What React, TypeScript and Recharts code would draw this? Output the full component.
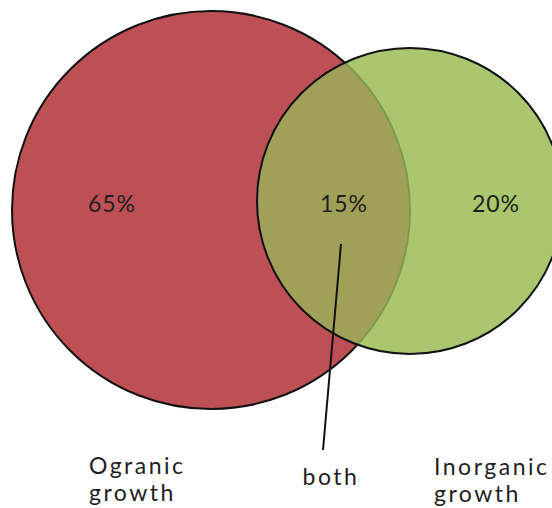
import React from "react";
import { ScatterChart, Scatter, XAxis, YAxis, ZAxis } from "recharts";

// circles: centre and radius in the chart's own units (1 unit = 1px)
const organic = [{ name: "Ogranic growth", x: 211, y: 210, r: 199 }];
const inorganic = [{ name: "Inorganic growth", x: 410, y: 201, r: 153 }];

const shares = [
  { label: "65%", x: 112, y: 204 },
  { label: "15%", x: 344, y: 204 },
  { label: "20%", x: 496, y: 204 },
];

const names = [
  { lines: ["Ogranic", "growth"], x: 89, y: 474, anchor: "start" },
  { lines: ["both"], x: 331, y: 485, anchor: "middle" },
  { lines: ["Inorganic", "growth"], x: 434, y: 475, anchor: "start" },
];

const pointer = [
  { x: 341, y: 244 },
  { x: 323, y: 450 },
];

const RED = "#bd5055";
const GREEN = "#aac66f";
const BOTH = "#a0a058";
const FONT = "Lato, 'Noto Sans', sans-serif";

const radius = (p: any) => p.size ?? p.width / 2;

function RedCircle(p: any) {
  return <circle cx={p.cx} cy={p.cy} r={radius(p)} fill={RED} stroke="#111" strokeWidth={2} />;
}

function GreenCircle(p: any) {
  const r = radius(p);
  return (
    <g>
      <defs>
        <clipPath id="green-clip">
          <circle cx={p.cx} cy={p.cy} r={r} />
        </clipPath>
      </defs>
      <circle cx={p.cx} cy={p.cy} r={r} fill={GREEN} stroke="none" />
    </g>
  );
}

// the red circle again, seen through the green one
function Overlap(p: any) {
  return (
    <circle
      cx={p.cx}
      cy={p.cy}
      r={radius(p)}
      fill={BOTH}
      stroke="#7d9a4c"
      strokeWidth={2}
      clipPath="url(#green-clip)"
    />
  );
}

function GreenOutline(p: any) {
  return <circle cx={p.cx} cy={p.cy} r={radius(p)} fill="none" stroke="#111" strokeWidth={2} />;
}

function ShareText(p: any) {
  return (
    <text x={p.cx} y={p.cy} dy="0.35em" textAnchor="middle" fontFamily={FONT} fontSize={23} letterSpacing={1} fill="#1e1e1e">
      {p.payload.label}
    </text>
  );
}

function NameText(p: any) {
  const d = p.payload;
  return (
    <text x={p.cx} y={p.cy} textAnchor={d.anchor} fontFamily={FONT} fontSize={23} letterSpacing={2.5} fill="#1e1e1e">
      {d.lines.map((l: string, i: number) => (
        <tspan key={i} x={p.cx} dy={i === 0 ? 0 : 27}>
          {l}
        </tspan>
      ))}
    </text>
  );
}

const Nothing = () => null;

export default function App() {
  return (
    <div style={{ position: "absolute", left: 0, top: 0, background: "#fff" }}>
      <ScatterChart width={552} height={508} margin={{ top: 0, right: 0, bottom: 0, left: 0 }}>
        <XAxis type="number" dataKey="x" domain={[0, 552]} hide />
        <YAxis type="number" dataKey="y" domain={[0, 508]} reversed hide />
        <ZAxis type="number" dataKey="r" domain={[0, 552]} range={[0, 552]} />
        <Scatter data={organic} shape={RedCircle} isAnimationActive={false} />
        <Scatter data={inorganic} shape={GreenCircle} isAnimationActive={false} />
        <Scatter data={organic} shape={Overlap} isAnimationActive={false} />
        <Scatter data={inorganic} shape={GreenOutline} isAnimationActive={false} />
        <Scatter
          data={pointer}
          line={{ stroke: "#111", strokeWidth: 2 }}
          shape={Nothing}
          isAnimationActive={false}
        />
        <Scatter data={shares} shape={ShareText} isAnimationActive={false} />
        <Scatter data={names} shape={NameText} isAnimationActive={false} />
      </ScatterChart>
    </div>
  );
}
